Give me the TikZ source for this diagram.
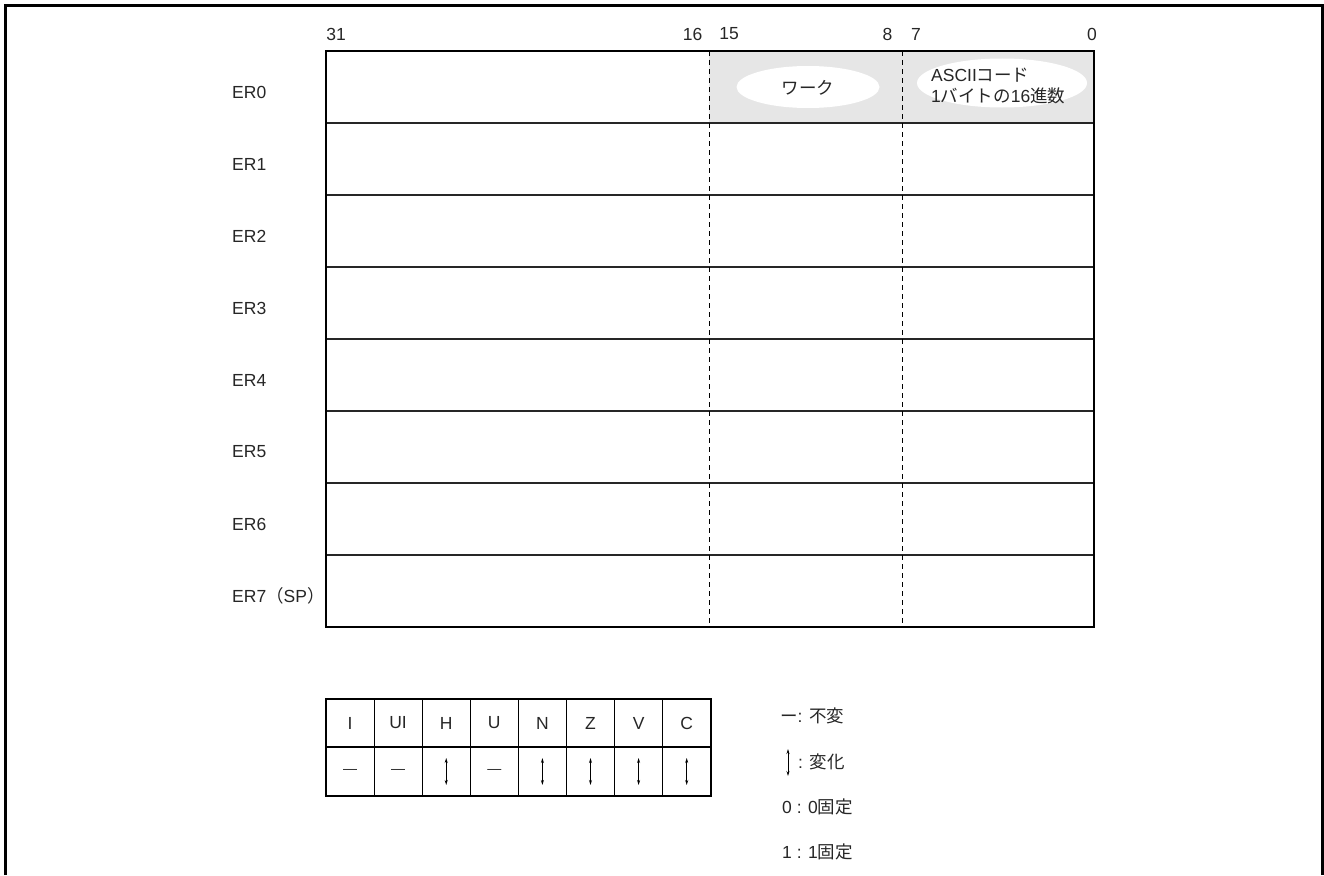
\documentclass[tikz,border=0pt]{standalone}
\usepackage{fontspec}
\setmainfont{Liberation Sans}
\newfontfamily\jp{Noto Sans CJK JP}
\usetikzlibrary{arrows.meta,shapes.geometric}
\definecolor{cellgray}{RGB}{230,230,230}
\tikzset{
  lbl/.style={font=\fontsize{17.5}{20}\selectfont, inner sep=0pt, text=black!85},
  rowline/.style={line width=1.4pt, draw=black!85},
  dashline/.style={line width=0.9pt, dash pattern=on 5pt off 4pt},
  chg/.style={line width=0.9pt, {Stealth[length=5pt,width=3pt]}-{Stealth[length=5pt,width=3pt]}},
  oval/.style={ellipse, fill=white, draw=none, inner sep=0pt}
}
\begin{document}
\begin{tikzpicture}[x=1pt,y=-1pt]
\useasboundingbox (0,0) rectangle (1324,875);
% outer frame
\draw[line width=3pt] (5,875) -- (5,6) -- (1322,6) -- (1322,875);
% gray fill ER0
\fill[cellgray] (709,51) rectangle (1094,123);
\node[oval, minimum width=143pt, minimum height=42pt] (w) at (808,87) {};
\node[oval, minimum width=170pt, minimum height=49pt] (a) at (1002,83) {};
\node[lbl] (wt) at (808,88) {\jp ワーク};
\node[lbl, anchor=west, align=left] (at) at (931,86) {ASCII{\jp コード}\\[1pt]1{\jp バイトの}16{\jp 進数}};
% rows
\foreach \i in {1,...,7} {
  \draw[rowline] (326,{51+72*\i}) -- (1094,{51+72*\i});
}
\draw[dashline] (709,51) -- (709,627);
\draw[dashline] (902,51) -- (902,627);
\draw[line width=2pt] (326,51) rectangle (1094,627);
% bit labels
\node[lbl] (b31) at (336,34) {31};
\node[lbl] (b16) at (692.5,34) {16};
\node[lbl] (b15) at (729,34) {15};
\node[lbl] (b8) at (887.5,34) {8};
\node[lbl] (b7) at (916,34) {7};
\node[lbl] (b0) at (1092,34) {0};
% register names
\foreach \n [count=\k from 0] in {ER0,ER1,ER2,ER3,ER4,ER5,ER6} {
  \node[lbl, anchor=west] (r\k) at (232,{92+72*\k}) {\n};
}
\node[lbl, anchor=west] (r7) at (232,596) {ER7{\jp （}SP{\jp ）}};
% flag table
\foreach \t [count=\k from 0] in {I,UI,H,U,N,Z,V,C} {
  \node[lbl] (f\k) at ({350+48.1*\k},723) {\t};
}
\foreach \k in {1,...,7} {
  \draw[line width=1.2pt] ({326+48.1*\k},699) -- ({326+48.1*\k},796);
}
\draw[line width=1.2pt] (326,747) -- (711,747);
\draw[line width=2pt] (326,699) rectangle (711,796);
\foreach \k in {0,1,3} {
  \node[lbl, font=\fontsize{14}{16}\selectfont] (d\k) at ({350+48.1*\k},771) {—};
}
\foreach \k in {2,4,5,6,7} {
  \coordinate (ut\k) at ({350+48.1*\k},758);
  \coordinate (ub\k) at ({350+48.1*\k},785);
  \draw[chg] (ut\k) -- (ub\k);
}
% legend
\node[lbl, anchor=west] (l1) at (780,716) {{\jp ー}: {\jp 不変}};
\coordinate (lt) at (788,749);
\coordinate (lb) at (788,776);
\draw[chg] (lt) -- (lb);
\node[lbl, anchor=west] (l2) at (798,762) {: {\jp 変化}};
\node[lbl, anchor=west] (l3) at (782,807) {0 : 0{\jp 固定}};
\node[lbl, anchor=west] (l4) at (782,852) {1 : 1{\jp 固定}};
\end{tikzpicture}
\end{document}
